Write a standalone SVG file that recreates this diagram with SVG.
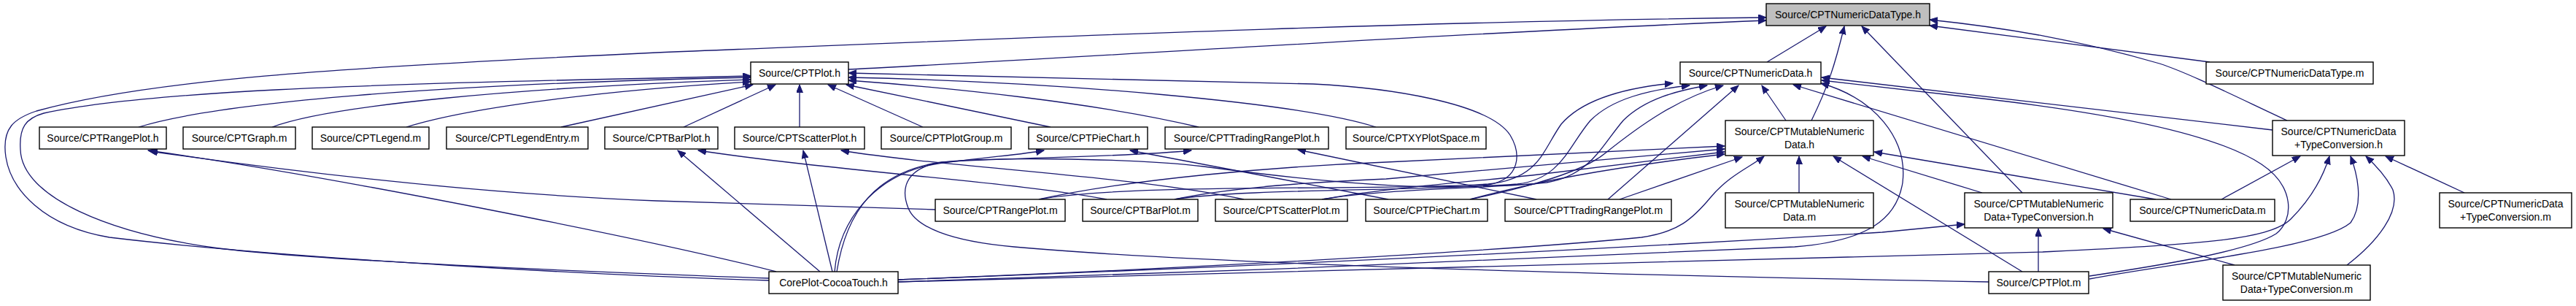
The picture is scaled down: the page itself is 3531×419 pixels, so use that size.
<svg xmlns="http://www.w3.org/2000/svg" width="3531" height="419" viewBox="0 0 3531 419">
<style>
.e{fill:none;stroke:#191970;stroke-width:1.3;marker-end:url(#a)}
.n rect{fill:#fff;stroke:#000;stroke-width:1.4}
.r rect{fill:#bfbfbf}
text{font-family:"Liberation Sans",Arial,Helvetica,sans-serif;font-size:14px;text-anchor:middle;fill:#000}
</style>
<defs>
<marker id="a" markerWidth="12" markerHeight="10" refX="11" refY="4.5" orient="auto" markerUnits="userSpaceOnUse"><path d="M0,0 L11,4.5 L0,9 z" fill="#191970" stroke="#191970" stroke-width="1"/></marker>
</defs>
<rect width="3531" height="419" fill="#fff"/>
<g id="edges">
<path class="e" d="M1163,95 C1500,78 2000,45 2421,28"/>
<path class="e" d="M1054,384 C850,378 400,355 150,325 C60,310 15,260 8,215 C2,175 20,162 50,152 C200,110 450,93 900,72 C1400,52 1900,30 2421,24"/>
<path class="e" d="M1054,381 C800,372 450,358 300,340 C150,320 30,270 28,205 C26,175 35,162 60,155 C200,125 500,115 900,107 L1029,104"/>
<path class="e" d="M190,174 C300,140 600,115 1029,106"/>
<path class="e" d="M373,174 C450,145 700,120 1029,109"/>
<path class="e" d="M557,174 C650,145 850,122 1029,112"/>
<path class="e" d="M769,174 L1032,116"/>
<path class="e" d="M937,174 L1063,116"/>
<path class="e" d="M1096,174 L1096,116"/>
<path class="e" d="M1265,174 L1135,116"/>
<path class="e" d="M1440,174 L1160,116"/>
<path class="e" d="M1643,174 C1500,140 1300,120 1163,110"/>
<path class="e" d="M1886,174 C1780,140 1450,112 1163,106"/>
<path class="e" d="M2726,386 C2400,380 1700,366 1390,338 C1300,330 1255,310 1245,285 C1235,260 1240,235 1280,224 C1330,214 1550,216 1650,228 C1800,248 1950,262 2040,253 C2085,245 2085,210 2070,185 C2040,140 1900,120 1800,115 L1163,100"/>
<path class="e" d="M1064,372 C900,330 450,240 203,206"/>
<path class="e" d="M1282,287 L900,275 C650,265 400,235 205,207"/>
<path class="e" d="M1517,273 C1400,250 1150,235 957,206"/>
<path class="e" d="M1124,372 L929,206"/>
<path class="e" d="M1705,273 C1550,240 1300,230 1153,206"/>
<path class="e" d="M1141,372 L1101,206"/>
<path class="e" d="M1144,372 C1150,300 1200,240 1280,225 C1350,215 1400,212 1431,206"/>
<path class="e" d="M1147,372 C1160,290 1200,235 1290,222 C1400,215 1550,215 1633,206"/>
<path class="e" d="M1903,273 L1549,206"/>
<path class="e" d="M2106,273 L1779,205"/>
<path class="e" d="M2422,85 L2503,36"/>
<path class="e" d="M2483,165 C2505,120 2515,90 2528,36"/>
<path class="e" d="M2772,264 L2552,36"/>
<path class="e" d="M3135,165 C3060,130 3000,100 2960,87 C2850,55 2750,38 2645,27"/>
<path class="e" d="M3029,85 L2645,35"/>
<path class="e" d="M1424,273 C1550,250 1900,262 2040,252 C2110,245 2115,205 2140,170 C2170,135 2230,120 2293,114"/>
<path class="e" d="M1610,273 C1700,258 1950,262 2080,252 C2140,245 2150,200 2180,165 C2210,135 2260,123 2316,117"/>
<path class="e" d="M1812,273 C1900,258 2050,258 2120,250 C2180,240 2195,200 2225,165 C2255,135 2300,124 2340,117"/>
<path class="e" d="M2015,273 C2100,255 2170,235 2200,210 C2250,170 2300,135 2362,117"/>
<path class="e" d="M2204,273 L2383,117"/>
<path class="e" d="M2448,165 L2415,117"/>
<path class="e" d="M2976,273 L2458,116"/>
<path class="e" d="M3115,178 L2497,106"/>
<path class="e" d="M2864,378 C2950,365 3080,345 3120,320 C3145,300 3145,255 3100,225 C3040,185 2900,155 2700,133 L2497,110"/>
<path class="e" d="M1231,386 C1600,375 2200,352 2460,338 C2560,330 2600,300 2608,250 C2615,190 2570,135 2496,114"/>
<path class="e" d="M1424,273 C1550,245 1750,228 1900,222 L2364,200"/>
<path class="e" d="M1610,273 C1680,258 1780,250 1900,245 L2364,204"/>
<path class="e" d="M1812,273 C1880,260 2000,250 2100,240 L2364,208"/>
<path class="e" d="M2015,273 C2100,250 2200,230 2364,211"/>
<path class="e" d="M2220,273 L2388,215"/>
<path class="e" d="M1231,383 C1700,365 2100,340 2250,325 C2300,318 2320,300 2345,270 C2370,240 2400,228 2418,214"/>
<path class="e" d="M2466,264 L2466,214"/>
<path class="e" d="M2772,372 L2513,214"/>
<path class="e" d="M2717,264 L2553,214"/>
<path class="e" d="M2955,273 L2569,208"/>
<path class="e" d="M3045,273 L3153,214"/>
<path class="e" d="M2864,382 C2980,360 3180,340 3222,305 C3240,280 3232,240 3222,214"/>
<path class="e" d="M3217,363 C3260,330 3290,290 3280,260 C3270,240 3255,225 3243,214"/>
<path class="e" d="M3378,264 L3270,214"/>
<path class="e" d="M1231,386 C2000,370 2600,355 2800,345 C3000,335 3110,330 3140,300 C3170,270 3185,240 3193,214"/>
<path class="e" d="M2794,372 L2794,313"/>
<path class="e" d="M3063,363 L2883,313"/>
<path class="e" d="M1231,383 C1800,362 2300,335 2580,318 L2693,307"/>
</g>
<g id="n_ndt_h" class="n r"><rect x="2421" y="5" width="224" height="30"/><text x="2533" y="25">Source/CPTNumericDataType.h</text></g>
<g id="n_plot_h" class="n"><rect x="1029" y="85" width="134" height="30"/><text x="1096" y="105">Source/CPTPlot.h</text></g>
<g id="n_nd_h" class="n"><rect x="2303" y="85" width="193" height="30"/><text x="2399.5" y="105">Source/CPTNumericData.h</text></g>
<g id="n_ndt_m" class="n"><rect x="3024" y="85" width="229" height="30"/><text x="3138.5" y="105">Source/CPTNumericDataType.m</text></g>
<g id="n_rangeplot_h" class="n"><rect x="54" y="174" width="174" height="30"/><text x="141" y="194">Source/CPTRangePlot.h</text></g>
<g id="n_graph_m" class="n"><rect x="251" y="174" width="154" height="30"/><text x="328" y="194">Source/CPTGraph.m</text></g>
<g id="n_legend_m" class="n"><rect x="428" y="174" width="160" height="30"/><text x="508" y="194">Source/CPTLegend.m</text></g>
<g id="n_legendentry_m" class="n"><rect x="612" y="174" width="194" height="30"/><text x="709" y="194">Source/CPTLegendEntry.m</text></g>
<g id="n_barplot_h" class="n"><rect x="829" y="174" width="155" height="30"/><text x="906.5" y="194">Source/CPTBarPlot.h</text></g>
<g id="n_scatterplot_h" class="n"><rect x="1007" y="174" width="178" height="30"/><text x="1096" y="194">Source/CPTScatterPlot.h</text></g>
<g id="n_plotgroup_m" class="n"><rect x="1208" y="174" width="178" height="30"/><text x="1297" y="194">Source/CPTPlotGroup.m</text></g>
<g id="n_piechart_h" class="n"><rect x="1410" y="174" width="163" height="30"/><text x="1491.5" y="194">Source/CPTPieChart.h</text></g>
<g id="n_tradingrangeplot_h" class="n"><rect x="1597" y="174" width="224" height="30"/><text x="1709" y="194">Source/CPTTradingRangePlot.h</text></g>
<g id="n_xyplotspace_m" class="n"><rect x="1845" y="174" width="192" height="30"/><text x="1941" y="194">Source/CPTXYPlotSpace.m</text></g>
<g id="n_mnd_h" class="n"><rect x="2365" y="165" width="203" height="48"/><text x="2466.5" y="185">Source/CPTMutableNumeric</text><text x="2466.5" y="203">Data.h</text></g>
<g id="n_ndtc_h" class="n"><rect x="3115" y="165" width="181" height="48"/><text x="3205.5" y="185">Source/CPTNumericData</text><text x="3205.5" y="203">+TypeConversion.h</text></g>
<g id="n_rangeplot_m" class="n"><rect x="1282" y="273" width="178" height="30"/><text x="1371" y="293">Source/CPTRangePlot.m</text></g>
<g id="n_barplot_m" class="n"><rect x="1484" y="273" width="158" height="30"/><text x="1563" y="293">Source/CPTBarPlot.m</text></g>
<g id="n_scatterplot_m" class="n"><rect x="1666" y="273" width="181" height="30"/><text x="1756.5" y="293">Source/CPTScatterPlot.m</text></g>
<g id="n_piechart_m" class="n"><rect x="1872" y="273" width="167" height="30"/><text x="1955.5" y="293">Source/CPTPieChart.m</text></g>
<g id="n_tradingrangeplot_m" class="n"><rect x="2063" y="273" width="228" height="30"/><text x="2177" y="293">Source/CPTTradingRangePlot.m</text></g>
<g id="n_nd_m" class="n"><rect x="2920" y="273" width="198" height="30"/><text x="3019" y="293">Source/CPTNumericData.m</text></g>
<g id="n_mnd_m" class="n"><rect x="2365" y="264" width="203" height="48"/><text x="2466.5" y="284">Source/CPTMutableNumeric</text><text x="2466.5" y="302">Data.m</text></g>
<g id="n_mndtc_h" class="n"><rect x="2693" y="264" width="203" height="48"/><text x="2794.5" y="284">Source/CPTMutableNumeric</text><text x="2794.5" y="302">Data+TypeConversion.h</text></g>
<g id="n_ndtc_m" class="n"><rect x="3344" y="264" width="181" height="48"/><text x="3434.5" y="284">Source/CPTNumericData</text><text x="3434.5" y="302">+TypeConversion.m</text></g>
<g id="n_coreplot" class="n"><rect x="1054" y="372" width="177" height="30"/><text x="1142.5" y="392">CorePlot-CocoaTouch.h</text></g>
<g id="n_plot_m" class="n"><rect x="2726" y="372" width="137" height="30"/><text x="2794.5" y="392">Source/CPTPlot.m</text></g>
<g id="n_mndtc_m" class="n"><rect x="3047" y="363" width="202" height="48"/><text x="3148" y="383">Source/CPTMutableNumeric</text><text x="3148" y="401">Data+TypeConversion.m</text></g>
</svg>
